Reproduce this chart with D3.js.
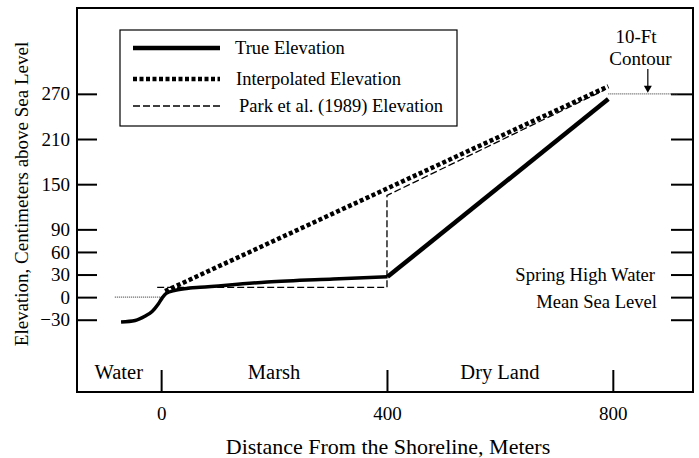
<!DOCTYPE html>
<html>
<head>
<meta charset="utf-8">
<script src="https://cdn.jsdelivr.net/npm/d3@7"></script>
<style>
  body { margin: 0; background: #fff; }
  svg { font-family: "Liberation Serif", "Times New Roman", serif; }
  .axis path.domain { display: none; }
  .axis line { stroke: #000; stroke-width: 2; }
  .axis text { font-size: 19px; fill: #000; font-family: "Liberation Serif", serif; }
</style>
</head>
<body>
<div id="chart-area"></div>
<script>
// data (distance in meters, elevation in cm)
var yTicks = [-30, 0, 30, 60, 90, 150, 210, 270];
var xTicks = [0, 400, 800];

var trueDist = [-71, -46, -28, -16, -5, 2, 9, 25, 51, 69, 188, 305, 401, 792];
var trueElev = [-33, -31, -25, -19, -9, -1, 5, 9, 12, 13, 20, 24, 27, 263];

var interpDist = [7, 792];
var interpElev = [8, 280];

var parkDist = [-7, 400, 400, 785];
var parkElev = [13, 13, 135, 275];

var zones = ["Water", "Marsh", "Dry Land"];
var zoneMid = [-75, 200, 600];

var seriesNames = ["True Elevation", "Interpolated Elevation", "Park et al. (1989) Elevation"];

var margin = {top: 8, right: 6, bottom: 66, left: 77};
var width = 699 - margin.left - margin.right;
var height = 458 - margin.top - margin.bottom;

var svg = d3.select('#chart-area')
    .append('svg')
        .attr('width', 699)
        .attr('height', 458);

var g = svg.append("g")
    .attr("transform", "translate(" + margin.left + ", " + margin.top + ")");

var x = d3.scaleLinear().domain([-149, 942]).range([0, width]);
var y = d3.scaleLinear().domain([-126, 384]).range([height, 0]);

// axes, ticks pointing inward
var leftAxis = d3.axisLeft(y).tickValues(yTicks).tickSizeInner(-20).tickSizeOuter(0).tickPadding(7);
g.append("g").attr("class", "left axis").call(leftAxis);

var rightAxis = d3.axisRight(y).tickValues(yTicks).tickSizeInner(-22).tickSizeOuter(0).tickFormat("");
g.append("g").attr("class", "right axis")
    .attr("transform", "translate(" + width + ", 0)")
    .call(rightAxis);

var bottomAxis = d3.axisBottom(x).tickValues(xTicks).tickSizeInner(-22).tickSizeOuter(0).tickPadding(15);
g.append("g").attr("class", "bottom axis")
    .attr("transform", "translate(0, " + height + ")")
    .call(bottomAxis);

// frame
g.append("rect")
    .attr("width", width)
    .attr("height", height)
    .attr("fill", "none")
    .attr("stroke", "#000")
    .attr("stroke-width", 2);

// reference dotted lines
g.append("line")
    .attr("x1", x(-82)).attr("x2", x(3))
    .attr("y1", y(0)).attr("y2", y(0))
    .attr("stroke", "#555").attr("stroke-width", 1.2).attr("stroke-dasharray", "1,1");
g.append("line")
    .attr("x1", x(792)).attr("x2", x(916))
    .attr("y1", y(270)).attr("y2", y(270))
    .attr("stroke", "#555").attr("stroke-width", 1.2).attr("stroke-dasharray", "1,1");

var line = d3.line()
    .x((d) => { return x(d[0]); })
    .y((d) => { return y(d[1]); });

var truePts = trueDist.map((d, i) => { return [d, trueElev[i]]; });
var interpPts = interpDist.map((d, i) => { return [d, interpElev[i]]; });
var parkPts = parkDist.map((d, i) => { return [d, parkElev[i]]; });

// Park et al.
g.append("path")
    .attr("d", line(parkPts))
    .attr("fill", "none")
    .attr("stroke", "#000")
    .attr("stroke-width", 1.3)
    .attr("stroke-dasharray", "7,3");

// interpolated
g.append("path")
    .attr("d", line(interpPts))
    .attr("fill", "none")
    .attr("stroke", "#000")
    .attr("stroke-width", 4.5)
    .attr("stroke-dasharray", "4,2.5");

// true elevation: smooth near shore, straight up the dry land
var curveLine = d3.line()
    .x((d) => { return x(d[0]); })
    .y((d) => { return y(d[1]); })
    .curve(d3.curveMonotoneX);
g.append("path")
    .attr("d", curveLine(truePts.slice(0, truePts.length - 1)))
    .attr("fill", "none")
    .attr("stroke", "#000")
    .attr("stroke-width", 3.5);
g.append("path")
    .attr("d", line(truePts.slice(truePts.length - 2)))
    .attr("fill", "none")
    .attr("stroke", "#000")
    .attr("stroke-width", 4.5);

// zone labels
g.selectAll(".zone")
    .data(zones)
    .enter()
    .append("text")
        .attr("class", "zone")
        .attr("x", (d, i) => { return x(zoneMid[i]); })
        .attr("y", height - 13)
        .attr("text-anchor", "middle")
        .attr("font-size", "20.5px")
        .text((d) => { return d; });

// right side labels
g.append("text")
    .attr("x", width - 38).attr("y", y(30)).attr("dy", "0.35em")
    .attr("text-anchor", "end").attr("font-size", "18.6px")
    .text("Spring High Water");
g.append("text")
    .attr("x", width - 36).attr("y", y(0) + 4).attr("dy", "0.35em")
    .attr("text-anchor", "end").attr("font-size", "18.6px")
    .text("Mean Sea Level");

// 10-ft contour note
g.append("text")
    .attr("x", x(841)).attr("y", 35)
    .attr("text-anchor", "middle").attr("font-size", "19px")
    .text("10-Ft");
g.append("text")
    .attr("x", x(849)).attr("y", 57)
    .attr("text-anchor", "middle").attr("font-size", "19px")
    .text("Contour");
var ax = x(862);
g.append("line")
    .attr("x1", ax).attr("x2", ax)
    .attr("y1", 61).attr("y2", y(270) - 6)
    .attr("stroke", "#000").attr("stroke-width", 1.2);
g.append("path")
    .attr("d", "M" + (ax - 4) + "," + (y(270) - 8) + "L" + (ax + 4) + "," + (y(270) - 8) + "L" + ax + "," + (y(270) - 1) + "Z")
    .attr("fill", "#000");

// legend
var legend = g.append("g").attr("transform", "translate(43, 22)");
legend.append("rect")
    .attr("width", 337).attr("height", 96)
    .attr("fill", "#fff").attr("stroke", "#000").attr("stroke-width", 1.2);
var legendStyles = [
    {w: 4.5, dash: null, y: 18, tx: 115},
    {w: 4.5, dash: "4,2.5", y: 49, tx: 116},
    {w: 1.3, dash: "7,3", y: 76, tx: 119}
];
legendStyles.forEach((s, i) => {
    legend.append("line")
        .attr("x1", 13).attr("x2", 100)
        .attr("y1", s.y).attr("y2", s.y)
        .attr("stroke", "#000").attr("stroke-width", s.w)
        .attr("stroke-dasharray", s.dash);
    legend.append("text")
        .attr("x", s.tx).attr("y", s.y).attr("dy", "0.35em")
        .attr("font-size", "18.5px")
        .text(seriesNames[i]);
});

// axis titles
svg.append("text")
    .attr("x", 388).attr("y", 454)
    .attr("text-anchor", "middle").attr("font-size", "22px")
    .text("Distance From the Shoreline, Meters");

svg.append("text")
    .attr("transform", "rotate(-90)")
    .attr("x", -194).attr("y", 28)
    .attr("text-anchor", "middle").attr("font-size", "19px")
    .text("Elevation, Centimeters above Sea Level");
</script>
</body>
</html>
